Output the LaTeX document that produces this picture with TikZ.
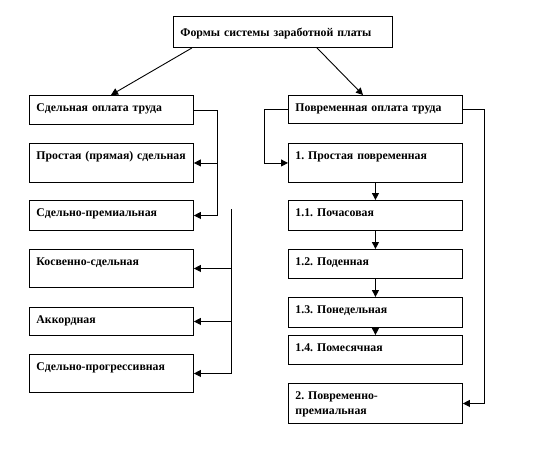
\documentclass[tikz,border=0pt]{standalone}
\usepackage{fontspec}
\setmainfont{Liberation Serif}
\usetikzlibrary{arrows.meta}
\frenchspacing

\begin{document}
\begin{tikzpicture}[
		x=1pt, y=-1pt,
		line width=0.9pt,
		>={Triangle[length=7pt,width=7pt]},
		every node/.style={font=\fontsize{11.8}{15.5}\selectfont\bfseries},
		box/.style={draw, anchor=north west, align=left, inner xsep=7pt, inner ysep=0pt,
			text width=#1-14pt, text height=16pt},
		box/.default=164pt
		]
		\useasboundingbox (0,0) rectangle (537,451);
		% top
		\node[box=219pt, text height=20pt, text depth=11pt] (forms) at (173,16) {Формы системы заработной платы};
		% left column
		\node[box, text depth=13pt] (sdel) at (29,95) {Сдельная оплата труда};
		\node[box, text depth=23pt] (prost) at (29,143) {Простая (прямая) сдельная};
		\node[box, text depth=14pt] (sdprem) at (29,200) {Сдельно-премиальная};
		\node[box, text depth=22pt] (kosv) at (29,249) {Косвенно-сдельная};
		\node[box, text depth=12pt] (akk) at (29,307) {Аккордная};
		\node[box, text depth=22pt] (sdprog) at (29,354) {Сдельно-прогрессивная};
		% right column
		\node[box=174pt, text depth=12pt] (povr) at (288,95) {Повременная оплата труда};
		\node[box=174pt, text depth=23pt] (p1) at (288,143) {1. Простая повременная};
		\node[box=174pt, text depth=14pt] (p11) at (288,200) {1.1. Почасовая};
		\node[box=174pt, text depth=13pt] (p12) at (288,249) {1.2. Поденная};
		\node[box=174pt, text depth=14pt] (p13) at (288,297) {1.3. Понедельная};
		\node[box=174pt, text depth=13pt] (p14) at (288,335) {1.4. Помесячная};
		\node[box=174pt, text depth=24pt] (p2) at (288,383) {2. Повременно-\\премиальная};

		\draw[->] ([xshift=19pt]forms.south west) -- ([xshift=82pt]sdel.north west);
		\draw[->] ([xshift=144pt]forms.south west) -- ([xshift=75pt]povr.north west);

		\coordinate (lbus) at (217,0);
		\coordinate (rbus) at (231,209);
		\draw[->] (sdel.east) -| (lbus |- sdprem.east) -- (sdprem.east);
		\draw[->] (lbus |- prost.east) -- (prost.east);
		\draw[->] (rbus) |- (sdprog.east);
		\draw[->] (rbus |- kosv.east) -- (kosv.east);
		\draw[->] (rbus |- akk.east) -- (akk.east);

		\draw[->] (povr.west) -- ++(-24,0) |- (p1.west);
		\draw[->] (povr.east) -- ++(22,0) |- (p2.east);
		\draw[->] (p1) -- (p11);
		\draw[->] (p11) -- (p12);
		\draw[->] (p12) -- (p13);
		\draw[->] (p13) -- (p14);
	\end{tikzpicture}
\end{document}
